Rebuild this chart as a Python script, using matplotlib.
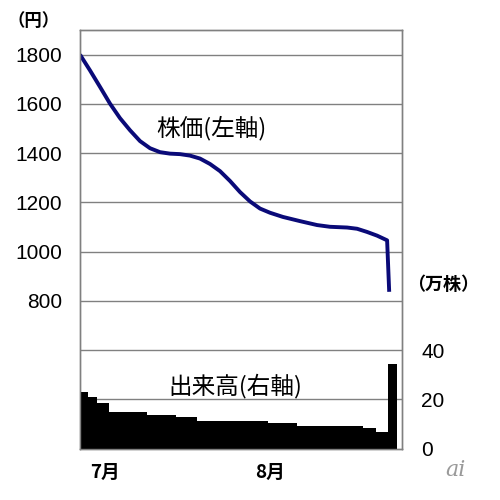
import numpy as np
import matplotlib
matplotlib.use("Agg")
import matplotlib.pyplot as plt

# ---- data (x in half-day index units) ----
price_x = [0, 2.4, 4.8, 7.2, 9.6, 12.0, 14.4, 16.8, 19.2, 21.6, 24.0, 26.4,
           28.8, 31.2, 33.6, 36.0, 38.4, 40.8, 43.2, 45.6, 48.7, 52.8, 56.9,
           60.0, 64.1, 66.5, 68.9, 71.3, 73.7, 74.2]
price_y = [1800, 1736, 1669, 1601, 1542, 1493, 1449, 1420, 1404, 1398, 1396, 1390,
           1378, 1356, 1327, 1287, 1242, 1204, 1175, 1158, 1141, 1124, 1108,
           1101, 1098, 1093, 1080, 1065, 1046, 837]

volume_levels = [22.9, 20.9, 18.4, 15.0, 13.8, 13.0, 11.4, 10.3, 9.2, 8.3, 6.9, 34.2]
volume_spans = [2, 2, 3, 9, 7, 5, 17, 7, 16, 3, 3, 2]

left_ticks = [800, 1000, 1200, 1400, 1600, 1800]
right_ticks = [0, 20, 40]
month_pos = [6.0, 45.6]
month_labels = ["7月", "8月"]

volume = np.repeat(volume_levels, volume_spans)
edges = np.arange(len(volume) + 1)

CJK = ["Noto Sans CJK JP", "DejaVu Sans"]
NUM = ["Liberation Sans", "DejaVu Sans"]

fig = plt.figure(figsize=(5, 5), dpi=100)
ax = fig.add_axes([0.16, 0.1026, 0.6434, 0.8374])
ax.set_xlim(0, 77.2)
ax.set_ylim(200, 1900)
for y in range(400, 1900, 200):
    ax.axhline(y, color="#808080", lw=1.0, zorder=1)
ax.plot(price_x, price_y, color="#0a0a78", lw=2.8, solid_joinstyle="round",
        solid_capstyle="butt", zorder=3)
ax.set_yticks(left_ticks)
ax.set_yticklabels([str(t) for t in left_ticks], family=NUM, fontsize=15)
ax.tick_params(axis="y", length=0, pad=13)
ax.set_xticks(month_pos)
ax.set_xticklabels(month_labels, family=CJK, fontsize=13.5, fontweight="bold")
ax.tick_params(axis="x", length=0, pad=10)

ax2 = ax.twinx()
ax2.set_ylim(0, 170)
ax2.stairs(volume, edges, fill=True, color="black", zorder=2)
ax2.set_xlim(0, 77.2)
ax2.set_yticks(right_ticks)
ax2.set_yticklabels([str(t) for t in right_ticks], family=NUM, fontsize=15)
ax2.tick_params(axis="y", length=0, pad=14)

for a in (ax, ax2):
    for s in a.spines.values():
        s.set_color("#808080")
        s.set_linewidth(1.0)

fig.text(0.068, 0.957, "（円）", family=CJK, fontsize=12.5, fontweight="bold",
         ha="center", va="center")
fig.text(0.886, 0.43, "（万株）", family=CJK, fontsize=13, fontweight="bold",
         ha="center", va="center")
fig.text(0.4234, 0.744, "株価(左軸)", family=CJK, fontsize=17,
         ha="center", va="center")
fig.text(0.47, 0.2286, "出来高(右軸)", family=CJK, fontsize=17,
         ha="center", va="center")
fig.text(0.91, 0.06, "ai", family=["DejaVu Serif"], fontsize=16, style="italic",
         color="#9a9a9a", ha="center", va="center")

fig.savefig("out.png", dpi=100)
